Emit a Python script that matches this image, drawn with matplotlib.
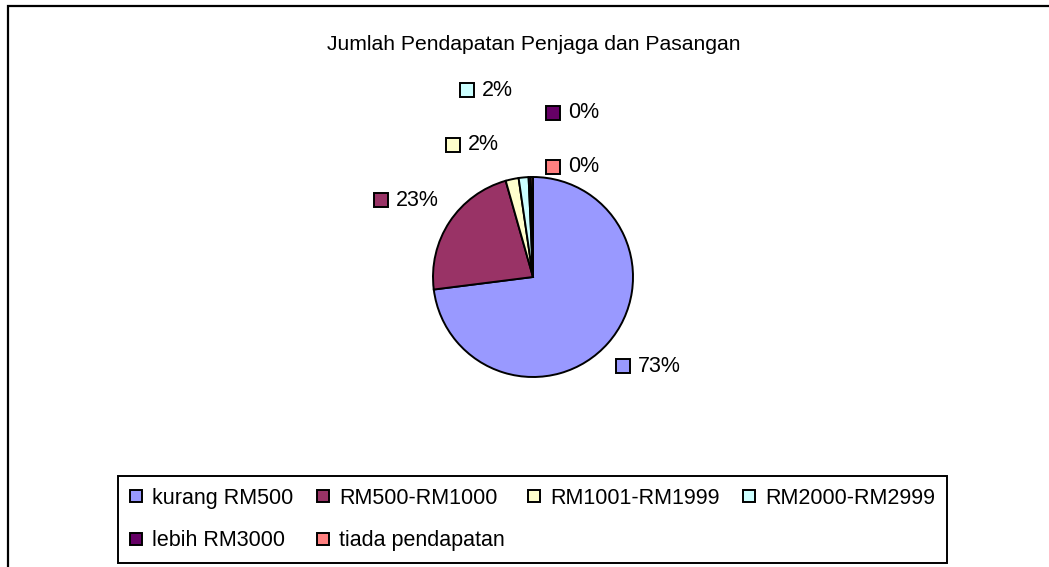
import matplotlib.pyplot as plt
from matplotlib.lines import Line2D
from matplotlib.patches import Rectangle

plt.rcParams['font.family'] = ['Liberation Sans', 'DejaVu Sans']

# =============================================================================
# Data
# =============================================================================
title = 'Jumlah Pendapatan Penjaga dan Pasangan'
categories = ['kurang RM500', 'RM500-RM1000', 'RM1001-RM1999',
              'RM2000-RM2999', 'lebih RM3000', 'tiada pendapatan']
values = [73.0, 22.6, 2.1, 1.6, 0.35, 0.35]
colors = ['#9999FF', '#993366', '#FFFFCC', '#CCFFFF', '#660066', '#FF8080']

# where the data labels sit (pixel position of the little colour key)
label_pos = [(623, 366), (381, 200), (453, 145), (467, 90), (553, 113), (553, 167)]

W, H = 1049, 567
cx, cy, R = 533, 277, 100

fig = plt.figure(figsize=(W / 100, H / 100), dpi=100)
ax = fig.add_axes([0, 0, 1, 1])

# outer chart frame (runs off the right and bottom of the picture)
fig.patches.append(Rectangle((8 / W, -0.1), 2, 1 - 6 / H + 0.1, transform=fig.transFigure,
                             fill=False, edgecolor='black', linewidth=1.6))

ax.pie(values, colors=colors, startangle=90, counterclock=False,
       center=(cx, H - cy), radius=R,
       wedgeprops=dict(edgecolor='black', linewidth=1.4))
# pie() resets the limits, so put the pixel frame back afterwards
ax.set_xlim(0, W)
ax.set_ylim(0, H)
ax.set_aspect('auto')
ax.axis('off')

ax.text(cx + 1, H - 44, title, ha='center', va='center', fontsize=15.2)

total = sum(values)
for v, c, (px, py) in zip(values, colors, label_pos):
    ax.plot(px, H - py, marker='s', markersize=10.5, markerfacecolor=c,
            markeredgecolor='black', markeredgewidth=1.4, linestyle='none')
    ax.text(px + 15, H - py, '{}%'.format(int(round(v / total * 100))),
            ha='left', va='center', fontsize=15.5)

# legend, Excel style: row-major order, so reorder for matplotlib's column fill
handles = [Line2D([], [], marker='s', linestyle='none', markersize=8.5,
                  markerfacecolor=c, markeredgecolor='black', markeredgewidth=1.4)
           for c in colors]
order = [0, 4, 1, 5, 2, 3]
leg = ax.legend([handles[i] for i in order], [categories[i] for i in order],
                ncol=4, loc='center', mode='expand',
                bbox_to_anchor=(118, H - 562, 947 - 118, 562 - 477),
                bbox_transform=ax.transData, borderaxespad=0, fontsize=15.5,
                handlelength=0.6, handletextpad=0.45, labelspacing=1.0,
                borderpad=0.55, columnspacing=0.8, fancybox=False,
                edgecolor='black', framealpha=1)
leg.get_frame().set_linewidth(1.4)

plt.savefig('out.png', dpi=100)
